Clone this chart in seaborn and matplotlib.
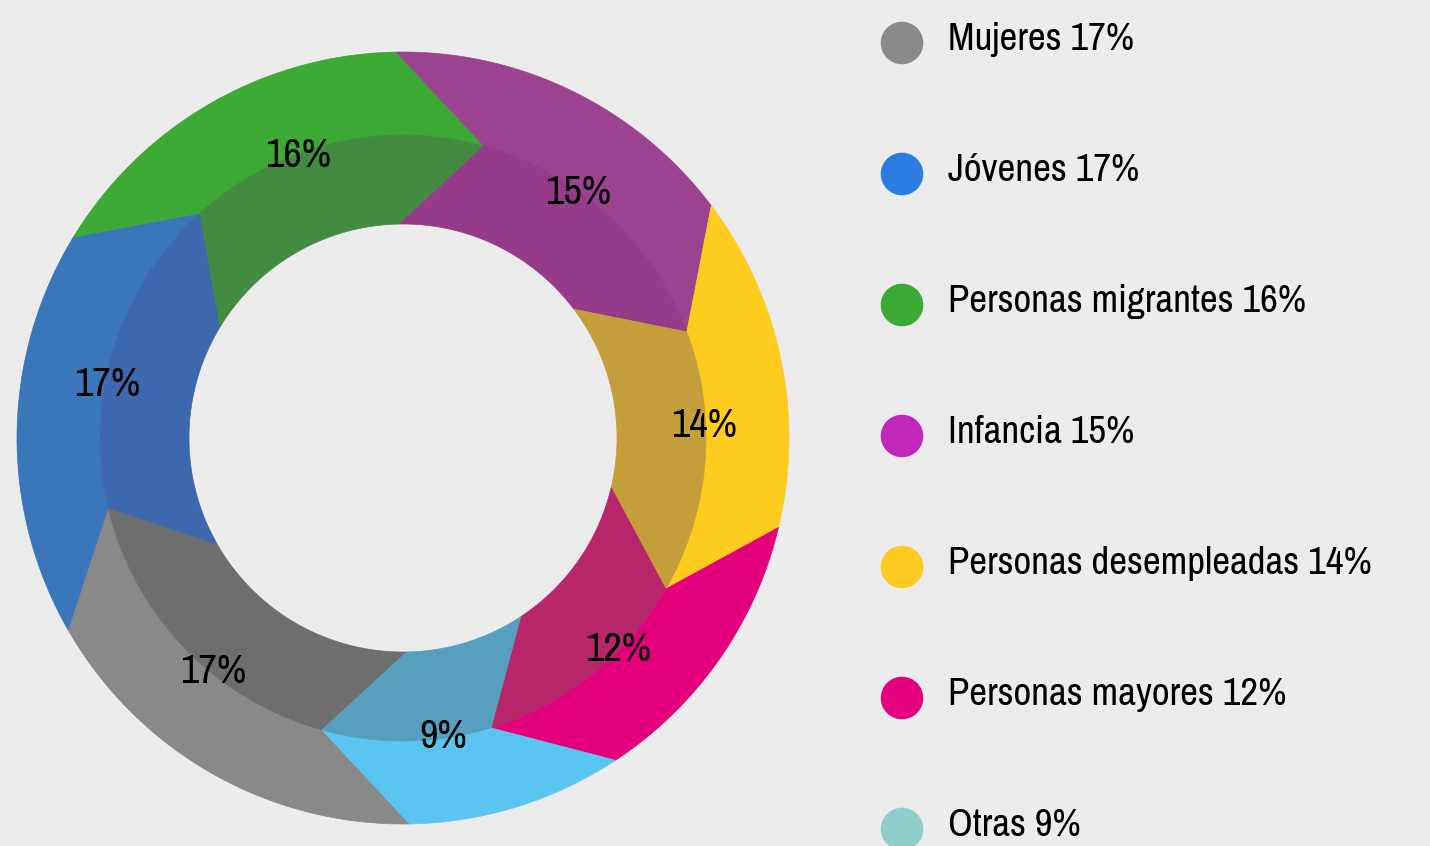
import matplotlib
matplotlib.use('Agg')
import matplotlib.pyplot as plt
from matplotlib.patches import Polygon
import numpy as np
import seaborn as sns

# data, in legend order (clockwise around the ring, starting at the bottom)
categories = ['Mujeres', 'Jóvenes', 'Personas migrantes', 'Infancia',
              'Personas desempleadas', 'Personas mayores', 'Otras']
shares = [17, 17, 16, 15, 14, 12, 9]
outer_colors = ['#898989', '#3a76ba', '#3caa35', '#9b4390',
                '#fecc1f', '#e4007c', '#5bc5f1']
inner_colors = ['#6e6e6e', '#3e68ae', '#438b40', '#963a8a',
                '#c39e3a', '#b7266b', '#579fbf']
legend_colors = ['#8a8a8a', '#2b7de1', '#3aaa35', '#c128b9',
                 '#fdca21', '#e5007d', '#8ecdc9']

bg = '#ececec'
sns.set_theme(style='white', rc={'axes.facecolor': bg, 'figure.facecolor': bg})
plt.rcParams['font.family'] = ['Archivo Narrow', 'DejaVu Sans']

W, H = 1430, 846
fig = plt.figure(figsize=(W / 100, H / 100), dpi=100)

# ring geometry (outer radius = 1)
r_out, r_mid, r_in = 1.0, 303 / 386, 214 / 386
twist = 16.5      # degrees the middle radius is shifted clockwise
start = -89.0     # where the first slice begins

ax = fig.add_axes([3 / W, 8 / H, 800 / W, 800 / H])
lim = 400 / 386
ax.set_xlim(-lim, lim)
ax.set_ylim(-lim, lim)
ax.set_aspect('equal')
ax.axis('off')


def pt(r, deg):
    a = np.radians(deg)
    return [r * np.cos(a), r * np.sin(a)]


def arc(r, a0, a1, n=60):
    return [pt(r, a) for a in np.linspace(a0, a1, n)]


spans = np.array(shares) / sum(shares) * 360
ends = start - np.cumsum(spans)
starts = ends + spans

for s, e, co, ci, val in zip(starts, ends, outer_colors, inner_colors, shares):
    outer = [pt(r_mid, s - twist), pt(r_out, s)] + arc(r_out, s, e) \
        + [pt(r_mid, e - twist)] + arc(r_mid, e - twist, s - twist)
    inner = [pt(r_in, s), pt(r_mid, s - twist)] + arc(r_mid, s - twist, e - twist) \
        + [pt(r_in, e)] + arc(r_in, e, s)
    ax.add_patch(Polygon(outer, closed=True, facecolor=co, edgecolor=co, lw=0.5))
    ax.add_patch(Polygon(inner, closed=True, facecolor=ci, edgecolor=ci, lw=0.5))
    # label sits on the middle radius, a bit clockwise of the slice centre
    mid = (s + e) / 2 - 9.5
    x, y = pt(0.78, mid)
    ax.text(x, y, f'{val}%', ha='center', va='center', fontsize=29, color='black')

# legend drawn as a categorical scatter
lax = fig.add_axes([880 / W, -48.5 / H, 550 / W, 917 / H])
lax.patch.set_alpha(0)
sns.scatterplot(x=np.zeros(len(categories)), y=categories, hue=categories,
                palette=legend_colors, s=940, linewidth=0, legend=False, ax=lax)
lax.set_xlim(-22, 528)
lax.set_ylim(6.5, -0.5)
for i, (cat, val) in enumerate(zip(categories, shares)):
    lax.text(46, i - 0.03, f'{cat} {val}%', ha='left', va='center',
             fontsize=28, color='black')
lax.axis('off')

fig.savefig('out.png', dpi=100, facecolor=bg)
